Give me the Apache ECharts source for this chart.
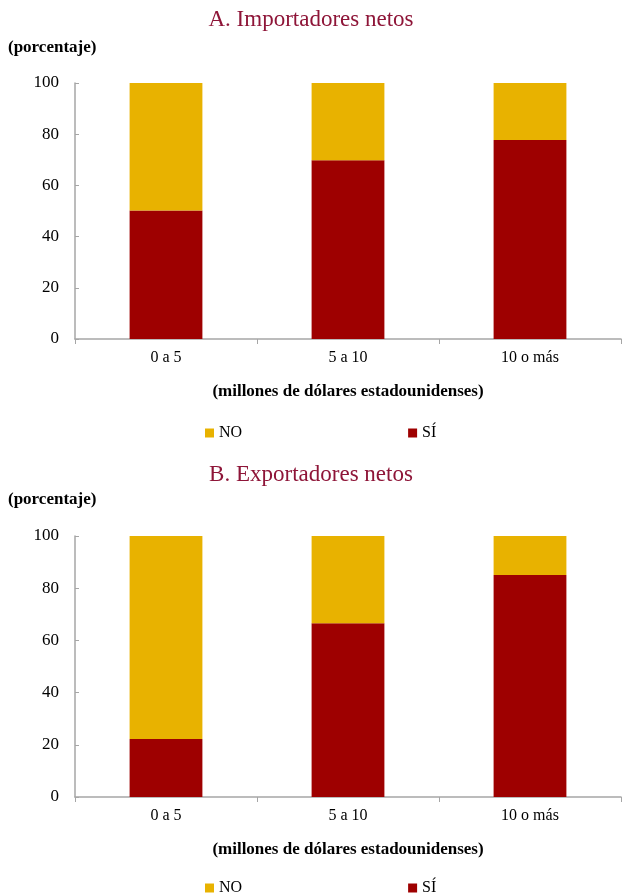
<!DOCTYPE html>
<html>
<head>
<meta charset="utf-8">
<title>Importadores y exportadores netos</title>
<script src="https://cdn.jsdelivr.net/npm/echarts@6/dist/echarts.min.js"></script>
<style>
  html, body { margin: 0; padding: 0; background: #fff; }
  #chart { width: 622px; height: 894px; }
</style>
</head>
<body>
<div id="chart"></div>
<script>
// datos
var categorias = ['0 a 5', '5 a 10', '10 o más'];
var impSi = [50.2, 69.8, 77.7];
var impNo = [49.8, 30.2, 22.6];
var expSi = [22.2, 66.6, 85.1];
var expNo = [77.8, 33.4, 14.9];
var yTicks = [0, 20, 40, 60, 80, 100];

var colorNo = '#E8B200';
var colorSi = '#9E0000';
var fuente = '"Liberation Serif", "Times New Roman", serif';

var chart = echarts.init(document.getElementById('chart'));

function ejeX(idx) {
    return {
        type: 'category',
        gridIndex: idx,
        data: categorias,
        axisLine: { lineStyle: { color: '#a6a6a6', width: 1.5 } },
        axisTick: { show: true, length: 5, lineStyle: { color: '#a6a6a6' } },
        axisLabel: { color: '#000', fontFamily: fuente, fontSize: 16, margin: 11 },
        name: '(millones de dólares estadounidenses)',
        nameLocation: 'middle',
        nameGap: 44,
        nameTextStyle: { color: '#000', fontFamily: fuente, fontSize: 17, fontWeight: 'bold' }
    };
}

function ejeY(idx) {
    return {
        type: 'value',
        gridIndex: idx,
        min: yTicks[0],
        max: yTicks[yTicks.length - 1],
        interval: 20,
        splitLine: { show: false },
        axisLine: { show: true, lineStyle: { color: '#a6a6a6', width: 1.5 } },
        axisTick: { show: true, inside: true, length: 4, lineStyle: { color: '#a6a6a6' } },
        axisLabel: { color: '#000', fontFamily: fuente, fontSize: 17, margin: 16 }
    };
}

function barra(nombre, datos, idx, color) {
    return {
        name: nombre,
        type: 'bar',
        stack: 'panel' + idx,
        xAxisIndex: idx,
        yAxisIndex: idx,
        barWidth: '40%',
        itemStyle: { color: color },
        data: datos
    };
}

function leyenda(top) {
    return {
        data: ['NO', 'SÍ'],
        top: top,
        left: 200,
        itemGap: 166,
        icon: 'rect',
        itemWidth: 9,
        itemHeight: 9,
        textStyle: { color: '#000', fontFamily: fuente, fontSize: 16 }
    };
}

var tituloEstilo = { color: '#8E1538', fontFamily: fuente, fontSize: 23, fontWeight: 'normal' };
var unidadEstilo = { color: '#000', fontFamily: fuente, fontSize: 17, fontWeight: 'bold' };

var option = {
    animation: false,
    backgroundColor: '#fff',
    title: [
        { text: 'A. Importadores netos', left: 'center', top: 3, textStyle: tituloEstilo },
        { text: '(porcentaje)', left: 3, top: 34, textStyle: unidadEstilo },
        { text: 'B. Exportadores netos', left: 'center', top: 458, textStyle: tituloEstilo },
        { text: '(porcentaje)', left: 3, top: 486, textStyle: unidadEstilo }
    ],
    legend: [leyenda(420), leyenda(875)],
    grid: [
        { left: 75, right: 1, top: 83, height: 256 },
        { left: 75, right: 1, top: 536, height: 261 }
    ],
    xAxis: [ejeX(0), ejeX(1)],
    yAxis: [ejeY(0), ejeY(1)],
    series: [
        barra('SÍ', impSi, 0, colorSi),
        barra('NO', impNo, 0, colorNo),
        barra('SÍ', expSi, 1, colorSi),
        barra('NO', expNo, 1, colorNo)
    ]
};

chart.setOption(option);

window.onresize = function () {
    chart.resize();
};
</script>
</body>
</html>
